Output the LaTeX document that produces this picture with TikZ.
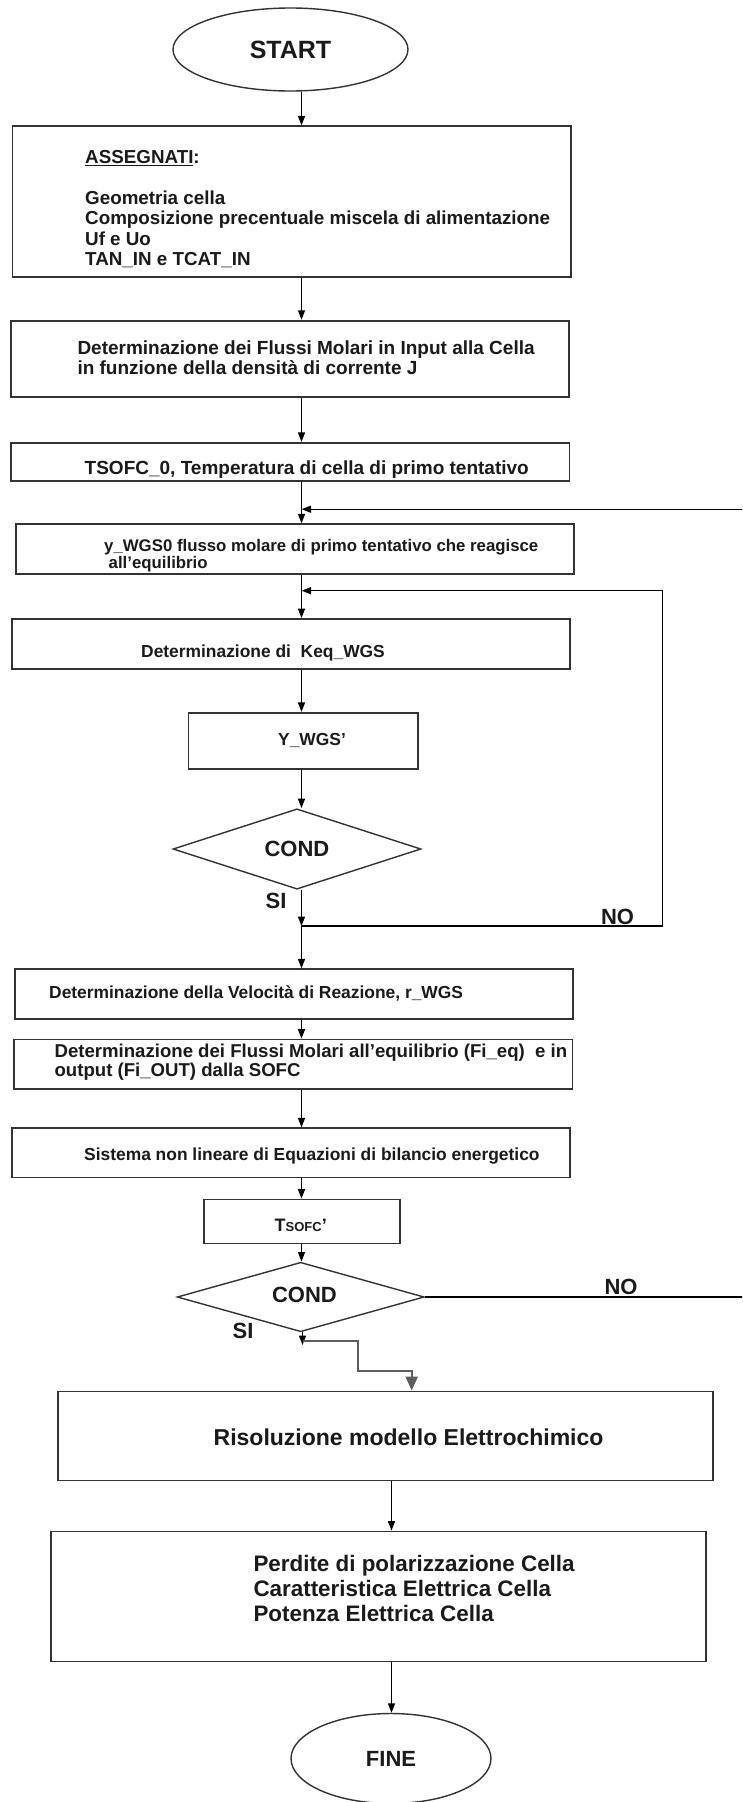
\documentclass[tikz,border=0pt]{standalone}
\usepackage{fontspec}
\setmainfont{Liberation Sans}
\usetikzlibrary{shapes.geometric,arrows.meta,fit}
\newcommand\myfs[1]{\fontsize{#1pt}{#1pt}\selectfont}
\definecolor{ln}{HTML}{333333}
\definecolor{tx}{HTML}{1A1A1A}
\definecolor{gr}{HTML}{5E5E5E}
\begin{document}
\begin{tikzpicture}[x=1pt,y=-1pt,
  every node/.style={font=\bfseries, text=tx},
  box/.style={draw=ln, line width=1.8pt, inner sep=0pt},
  oval/.style={ellipse, draw=ln, line width=1.4pt, inner sep=0pt},
  dia/.style={diamond, draw=ln, line width=1.4pt, inner sep=0pt},
  txt/.style={anchor=base west, inner sep=0pt},
  lbl/.style={inner sep=0pt, font=\bfseries\myfs{22}},
  arr/.style={draw=black, line width=1.4pt, -{Triangle[length=9.5pt,width=7pt]}},
  garr/.style={draw=gr, line width=2.2pt, -{Triangle[length=14pt,width=12pt]}}]
\useasboundingbox (0,0) rectangle (742,1802);
\fill[white] (0,0) rectangle (742,1802);

% ---- nodes ----
\node[oval, minimum width=235pt, minimum height=83pt, font=\bfseries\myfs{25}] (start) at (290.5,49.5) {START};

\node[box, fit={(12.5,126.3) (571,277)}] (b1) {};
\node[txt, font=\bfseries\myfs{18.8}] (t1a) at (85,163.5) {\underline{ASSEGNATI}:};
\node[txt, font=\bfseries\myfs{18.8}] (t1b) at (85,204.5) {Geometria cella};
\node[txt, font=\bfseries\myfs{18.8}] (t1c) at (85,224.7) {Composizione precentuale miscela di alimentazione};
\node[txt, font=\bfseries\myfs{18.8}] (t1d) at (85,245) {Uf e Uo};
\node[txt, font=\bfseries\myfs{18.8}] (t1e) at (85,265.2) {TAN\_IN e TCAT\_IN};

\node[box, fit={(10.7,320.7) (568.7,396.8)}] (b2) {};
\node[txt, font=\bfseries\myfs{19}] (t2a) at (77.3,354) {Determinazione dei Flussi Molari in Input alla Cella};
\node[txt, font=\bfseries\myfs{19}] (t2b) at (77.3,374.5) {in funzione della densità di corrente J};

\node[box, fit={(10.7,442.8) (569.5,480.7)}] (b3) {};
\node[txt, font=\bfseries\myfs{19}] (t3) at (84.5,474.8) {TSOFC\_0, Temperatura di cella di primo tentativo};

\node[box, fit={(15.8,524.3) (573.7,574.2)}] (b4) {};
\node[txt, font=\bfseries\myfs{16.8}] (t4a) at (104,551.2) {y\_WGS0 flusso molare di primo tentativo che reagisce};
\node[txt, font=\bfseries\myfs{16.8}] (t4b) at (108.5,568.3) {all’equilibrio};

\node[box, fit={(11.8,619) (570.3,669)}] (b5) {};
\node[txt, font=\bfseries\myfs{17.4}] (t5) at (141,657.5) {Determinazione di\ \ Keq\_WGS};

\node[box, fit={(188.5,712.8) (418.3,768.6)}] (b6) {};
\node[txt, font=\bfseries\myfs{17.4}] (t6) at (278,745.5) {Y\_WGS’};

\node[dia, minimum width=248pt, minimum height=70pt, font=\bfseries\myfs{22}] (d1) at (297,849) {COND};
\node[lbl] (si1) at (276,900.5) {SI};
\node[lbl] (no1) at (617.5,916.5) {NO};

\node[box, fit={(15,969.3) (572.7,1018.7)}] (b7) {};
\node[txt, font=\bfseries\myfs{17.4}] (t7) at (49,998.5) {Determinazione della Velocità di Reazione, r\_WGS};

\node[box, fit={(14,1039.5) (572.5,1089.3)}] (b8) {};
\node[txt, font=\bfseries\myfs{18.6}] (t8a) at (54.4,1057) {Determinazione dei Flussi Molari all’equilibrio (Fi\_eq)\ \ e in};
\node[txt, font=\bfseries\myfs{18.6}] (t8b) at (54.4,1076.3) {output (Fi\_OUT) dalla SOFC};

\node[box, fit={(11.8,1128.3) (570.3,1177.5)}] (b9) {};
\node[txt, font=\bfseries\myfs{17.4}] (t9) at (84,1160) {Sistema non lineare di Equazioni di bilancio energetico};

\node[box, fit={(204,1199.5) (400,1243.5)}] (b10) {};
\node[txt, font=\bfseries\myfs{18}] (t10) at (274.5,1231.5) {T{\myfs{13}SOFC}’};

\node[dia, minimum width=247pt, minimum height=69.5pt] (d2) at (300.7,1297) {};
\node[lbl] (c2) at (304.5,1294.5) {COND};
\node[lbl] (no2) at (621,1287) {NO};
\node[lbl] (si2) at (243,1330.5) {SI};

\node[box, fit={(57.7,1391.5) (713.3,1480.5)}] (b11) {};
\node[txt, font=\bfseries\myfs{23}] (t11) at (213.5,1445.5) {Risoluzione modello Elettrochimico};

\node[box, fit={(50.7,1531.5) (706.3,1661.5)}] (b12) {};
\node[txt, font=\bfseries\myfs{22.4}] (t12a) at (253.3,1571.3) {Perdite di polarizzazione Cella};
\node[txt, font=\bfseries\myfs{22.4}] (t12b) at (253.3,1596.5) {Caratteristica Elettrica Cella};
\node[txt, font=\bfseries\myfs{22.4}] (t12c) at (253.3,1621.5) {Potenza Elettrica Cella};

\node[oval, minimum width=200pt, minimum height=90pt, font=\bfseries\myfs{22}] (fine) at (391,1758.5) {FINE};

% ---- coordinates ----
\coordinate (ax) at (301.5,0);
\coordinate (ax2) at (391.5,0);
\coordinate (j1) at (301.5,926);
\coordinate (lp1) at (662.5,926);
\coordinate (lp2) at (662.5,590.7);
\coordinate (lj) at (301.5,590.7);
\coordinate (fb) at (301.5,509.2);
\coordinate (ro1) at (760,1297);
\coordinate (ro2) at (760,509.2);
\coordinate (sa) at (302.5,1345);
\coordinate (g0) at (302.5,1341);
\coordinate (g1) at (358.3,1341);
\coordinate (g2) at (358.3,1371);
\coordinate (g3) at (411.7,1371);

% ---- connectors ----
\draw[arr] (start.south -| ax) -- (b1.north -| ax);
\draw[arr] (b1.south -| ax) -- (b2.north -| ax);
\draw[arr] (b2.south -| ax) -- (b3.north -| ax);
\draw[arr] (b3.south -| ax) -- (b4.north -| ax);
\draw[arr] (b4.south -| ax) -- (b5.north -| ax);
\draw[arr] (b5.south -| ax) -- (b6.north -| ax);
\draw[arr] (b6.south -| ax) -- (d1.north -| ax);
\draw[arr] (d1.south -| ax) -- (j1);
\draw[arr] (j1) -- (lp1) -- (lp2) -- (lj);
\draw[arr] (j1) -- (b7.north -| ax);
\draw[arr] (b7.south -| ax) -- (b8.north -| ax);
\draw[arr] (b8.south -| ax) -- (b9.north -| ax);
\draw[arr] (b9.south -| ax) -- (b10.north -| ax);
\draw[arr] (b10.south -| ax) -- (d2.north -| ax);
\begin{scope}
  \clip (0,0) rectangle (742,1802);
  \draw[arr] (d2.east) -- (ro1) -- (ro2) -- (fb);
\end{scope}
\draw[arr] (d2.south -| sa) -- (sa);
\draw[garr] (g0) -- (g1) -- (g2) -- (g3) -- (b11.north -| g3);
\draw[arr] (b11.south -| ax2) -- (b12.north -| ax2);
\draw[arr] (b12.south -| ax2) -- (fine.north -| ax2);
\end{tikzpicture}
\end{document}
